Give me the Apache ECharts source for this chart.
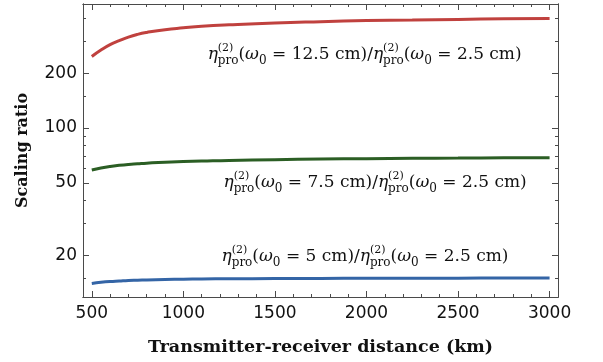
<!DOCTYPE html>
<html><head><meta charset="utf-8">
<script src="https://cdn.jsdelivr.net/npm/echarts@6/dist/echarts.min.js"></script>
<style>html,body{margin:0;padding:0;background:#fff}#c{width:603px;height:362px}</style>
</head><body><div id="c"></div>
<script>
const distances = [500,550,600,650,700,750,800,900,1000,1100,1250,1500,1750,2000,2250,2500,2750,3000];
const ratio125 = [247,268,287,302,316,327,335,347,355,362,369,378,384,389,392,395,398,400];
const ratio75  = [58.8,60.3,61.5,62.4,63.1,63.6,64.1,64.9,65.4,65.8,66.4,67.0,67.5,67.9,68.2,68.4,68.6,68.7];
const ratio5   = [14.0,14.2,14.35,14.45,14.55,14.6,14.65,14.72,14.78,14.82,14.86,14.9,14.93,14.95,14.97,14.98,14.99,15.0];
const xMajorTicks = [500,1000,1500,2000,2500,3000];
const xMinorTicks = [];
for (let v = 500; v <= 3000; v += 100) xMinorTicks.push(v);
const yMajorTicks = [20,50,100,200];
const yMinorTicks = [15,20,30,40,50,60,70,80,90,100,150,200,300,400];
const labelW = ['12.5','7.5','5'];
const labelPos = [[1990,252],[2047,49.9],[1992,19.6]];

const FR = '#4a4a4a';
const serif = '"DejaVu Serif", "Liberation Serif", serif';
const sans = '"DejaVu Sans", "Liberation Sans", Arial, sans-serif';
function richLabel(w){
  return '{it|η}{sup|(2)}{sub|pro}{n|(}{it|ω}{s0|0}{n| = ' + w + ' cm)/}{it|η}{sup|(2)}{sub|pro}{n|(}{it|ω}{s0|0}{n| = 2.5 cm)}';
}
const rich = {
  n:{fontFamily:serif,fontSize:17,color:'#111',lineHeight:24,align:'left'},
  it:{fontFamily:serif,fontSize:17,fontStyle:'italic',color:'#111',lineHeight:24,align:'left'},
  sup:{fontFamily:serif,fontSize:11,color:'#111',lineHeight:12,verticalAlign:'top',width:0.001,align:'left'},
  sub:{fontFamily:serif,fontSize:12,color:'#111',lineHeight:16,verticalAlign:'bottom',align:'left'},
  s0:{fontFamily:serif,fontSize:12,color:'#111',lineHeight:18,verticalAlign:'bottom',align:'left'}
};
const colors = ['#c0413e','#2b5e24','#3465a6'];
const datasets = [ratio125, ratio75, ratio5];
const xRange = {min:452, max:3046};
const yRange = {min:11.8, max:480};

function xAx(pos, ticks, len, showLabel, extra){
  return Object.assign({type:'value', position:pos, ...xRange,
    axisLine:{show:true, lineStyle:{color:FR,width:1}},
    splitLine:{show:false},
    axisTick:{show:true, inside:true, length:len, customValues:ticks, lineStyle:{color:FR}},
    axisLabel:{show:showLabel, customValues:ticks, formatter:v=>String(v), fontFamily:sans, fontSize:17, color:'#111', margin:8}
  }, extra||{});
}
function yAx(pos, ticks, len, showLabel, extra){
  return Object.assign({type:'log', logBase:10, position:pos, ...yRange,
    axisLine:{show:true, lineStyle:{color:FR,width:1}},
    splitLine:{show:false},
    axisTick:{show:true, inside:true, length:len, customValues:ticks, lineStyle:{color:FR}},
    axisLabel:{show:showLabel, customValues:ticks, formatter:v=>String(Math.round(v)), fontFamily:sans, fontSize:17, color:'#111', margin:6}
  }, extra||{});
}

const chart = echarts.init(document.getElementById('c'), null, {renderer:'canvas'});
chart.setOption({
  animation:false,
  backgroundColor:'#fff',
  grid:{left:83, right:45, top:4, bottom:65, containLabel:false},
  xAxis:[
    xAx('bottom', xMajorTicks, 6, true, {name:'Transmitter-receiver distance (km)', nameLocation:'middle', nameGap:41,
      nameTextStyle:{fontFamily:serif, fontWeight:'bold', fontSize:17.5, color:'#111'}}),
    xAx('bottom', xMinorTicks, 3, false),
    xAx('top', xMajorTicks, 6, false),
    xAx('top', xMinorTicks, 3, false)
  ],
  yAxis:[
    yAx('left', yMajorTicks, 6, true, {name:'Scaling ratio', nameLocation:'middle', nameGap:52, nameRotate:90,
      nameTextStyle:{fontFamily:serif, fontWeight:'bold', fontSize:16, color:'#111'}}),
    yAx('left', yMinorTicks, 3, false),
    yAx('right', yMajorTicks, 6, false),
    yAx('right', yMinorTicks, 3, false)
  ],
  series: datasets.map((d,i)=>({
    type:'line', xAxisIndex:0, yAxisIndex:0, smooth:0.5, showSymbol:false, symbol:'none',
    lineStyle:{color:colors[i], width:3},
    data: distances.map((x,j)=>[x,d[j]]),
    markPoint:{symbol:'circle', symbolSize:0, silent:true,
      data:[{coord:labelPos[i], label:{show:true, position:'inside', formatter:richLabel(labelW[i]), rich:rich}}]}
  }))
});
</script></body></html>
